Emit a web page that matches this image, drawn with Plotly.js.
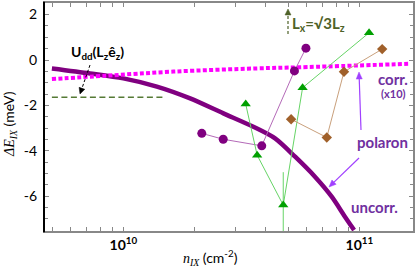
<!DOCTYPE html>
<html>
<head>
<meta charset="utf-8">
<script src="https://cdn.plot.ly/plotly-3.0.1.min.js"></script>
<style>html,body{margin:0;padding:0;background:#fff;}#chart{width:415px;height:270px;}</style>
</head>
<body>
<div id="chart"></div>
<script>
// ---- data (n in cm^-2, energies in meV) ----
const uncorrN = [4.98e9, 7.23e9, 1.0e10, 1.387e10, 1.919e10, 2.655e10, 3.556e10, 4.395e10, 5.346e10, 6.486e10, 7.638e10, 8.69e10, 9.506e10];
const uncorrE = [-0.37, -0.59, -0.81, -1.17, -1.69, -2.35, -2.94, -3.45, -4.26, -5.14, -6.02, -6.90, -7.49];

const corrN = [4.98e9, 8.5e9, 1.63e10, 3.67e10, 5.6e10, 1.61e11];
const corrE = [-0.84, -0.69, -0.51, -0.37, -0.32, -0.17];

const uddN = [4.98e9, 1.50e10];
const uddE = [-1.64, -1.64];

const circN = [2.15e10, 2.65e10, 3.86e10, 5.31e10, 5.94e10];
const circE = [-3.23, -3.49, -3.78, -0.48, 0.52];

const triN = [3.30e10, 3.69e10, 4.76e10, 5.75e10, 1.10e11];
const triE = [-1.94, -4.19, -6.39, -1.22, 1.20];
const triErr = [0, 0, 1.45, 0, 0];

const diaN = [5.14e10, 7.28e10, 8.61e10, 1.25e11];
const diaE = [-2.61, -3.41, -0.52, 0.48];

const xTickVals = [1e10, 1e11];
const xTickText = ['<b>10<sup>10</sup></b>', '<b>10<sup>11</sup></b>'];
const xMinorVals = [5e9, 6e9, 7e9, 8e9, 9e9, 2e10, 3e10, 4e10, 5e10, 6e10, 7e10, 8e10, 9e10];
const yTickVals = [2, 0, -2, -4, -6];
const yTickText = ['2', '0', '-2', '-4', '-6'];

// ---- layout helpers (pixel -> paper) ----
const L = 45, R = 413, T = 3, B = 231;
const PX = x => (x - L) / (R - L);
const PY = y => (B - y) / (B - T);

const FONT = 'Lato, "Open Sans", sans-serif';
const PURPLE_TXT = '#7030a0';
const GREEN_TXT = '#4f6228';
const ARROW_VIOLET = '#a040ff';

function arrowShapes(tx, ty, hx, hy, color, width, dash, headLen, headHalf) {
  const dx = hx - tx, dy = hy - ty, len = Math.hypot(dx, dy);
  const ux = dx / len, uy = dy / len;
  const bx = hx - ux * headLen, by = hy - uy * headLen;
  const p1x = bx - uy * headHalf, p1y = by + ux * headHalf;
  const p2x = bx + uy * headHalf, p2y = by - ux * headHalf;
  const path = `M${PX(hx)},${PY(hy)} L${PX(p1x)},${PY(p1y)} L${PX(p2x)},${PY(p2y)} Z`;
  return [
    {type: 'line', xref: 'paper', yref: 'paper', x0: PX(tx), y0: PY(ty), x1: PX(bx), y1: PY(by),
     line: {color: color, width: width, dash: dash || 'solid'}},
    {type: 'path', xref: 'paper', yref: 'paper', path: path, fillcolor: color, line: {color: color, width: 0.5}}
  ];
}

function label(x, y, text, size, color, extra) {
  return Object.assign({xref: 'paper', yref: 'paper', x: PX(x), y: PY(y), xanchor: 'center', yanchor: 'middle',
    showarrow: false, text: text, font: {family: FONT, size: size, color: color}}, extra || {});
}

const traces = [
  {x: uddN, y: uddE, mode: 'lines', line: {color: '#557a35', width: 1.6, dash: '6px,3.5px'}},
  {x: uncorrN, y: uncorrE, mode: 'lines', line: {color: '#800080', width: 4.5, shape: 'spline', smoothing: 0.8}},
  {x: corrN, y: corrE, mode: 'lines', line: {color: '#ff00ff', width: 4, dash: '4px,2.3px', shape: 'spline'}},
  {x: circN, y: circE, mode: 'lines+markers', line: {color: '#b46ab8', width: 1},
   marker: {symbol: 'circle', size: 9, color: '#800080'}},
  {x: triN, y: triE, mode: 'lines+markers', line: {color: '#66d466', width: 1},
   marker: {symbol: 'triangle-up', size: 9, color: '#00a000'},
   error_y: {type: 'data', array: triErr, visible: true, color: '#66d466', thickness: 1, width: 0}},
  {x: diaN, y: diaE, mode: 'lines+markers', line: {color: '#c9a07c', width: 1},
   marker: {symbol: 'diamond', size: 8, color: '#a0602a'}}
];

const annotations = [
  label(97, 52, '<b>U<sub>dd</sub>(L<sub>z</sub>ê<sub>z</sub>)</b>', 14, '#000'),
  label(318, 24, '<b>L<sub>x</sub>=√3L<sub>z</sub></b>', 15, GREEN_TXT),
  label(393, 79, '<b>corr.</b>', 15, PURPLE_TXT),
  label(393, 93, '<b>(x10)</b>', 11, PURPLE_TXT),
  label(382, 142, '<b>polaron</b>', 15, PURPLE_TXT),
  label(374, 207, '<b>uncorr.</b>', 15, PURPLE_TXT),
  label(210, 257, '<span style="font-family:\'Liberation Serif\',serif;font-style:italic">n<sub>IX</sub></span> (cm<sup>-2</sup>)', 14, '#000'),
  label(9, 124, '<span style="font-family:\'Liberation Serif\',serif;font-style:italic">ΔE<sub>IX</sub></span> (meV)', 14, '#000', {textangle: -90})
];

const shapes = [].concat(
  arrowShapes(90, 65, 80, 94, '#000', 1, '3px,2px', 6, 3),
  arrowShapes(288, 34, 288, 9, GREEN_TXT, 1.2, '3px,2px', 6, 3),
  arrowShapes(361, 130, 359, 72, ARROW_VIOLET, 1.2, null, 7, 3),
  arrowShapes(359, 158, 329, 187, ARROW_VIOLET, 1.2, null, 7, 3),
  [{type: 'line', xref: 'paper', yref: 'paper', x0: -1 / (R - L), y0: -0.005, x1: -1 / (R - L), y1: 1.005,
    line: {color: '#000', width: 2}, layer: 'above'}]
);

const layout = {
  width: 415, height: 270,
  margin: {l: L, r: 415 - R, t: T, b: 270 - B},
  paper_bgcolor: '#fff', plot_bgcolor: '#fff',
  showlegend: false,
  font: {family: FONT, size: 13, color: '#000'},
  xaxis: {
    type: 'log', range: [9.668, 11.2275], showgrid: false, zeroline: false,
    tickmode: 'array', tickvals: xTickVals, ticktext: xTickText, ticks: 'inside', ticklen: 4, tickcolor: '#888', tickwidth: 1,
    minor: {tickmode: 'array', tickvals: xMinorVals, ticks: 'inside', ticklen: 4, tickcolor: '#888', showgrid: false},
    showline: true, linecolor: '#888', linewidth: 2, mirror: 'allticks',
    tickfont: {family: FONT, size: 14, color: '#000'}
  },
  yaxis: {
    range: [-7.53, 2.51], showgrid: false, zeroline: false,
    tickmode: 'array', tickvals: yTickVals, ticktext: yTickText, ticks: 'inside', ticklen: 4, tickcolor: '#888', tickwidth: 1,
    minor: {dtick: 0.5, tick0: 0, ticks: 'inside', ticklen: 3, tickcolor: '#888', showgrid: false},
    showline: true, linecolor: '#888', linewidth: 2, mirror: 'allticks',
    tickfont: {family: FONT, size: 14, color: '#000'}, ticklabelstandoff: 3
  },
  annotations: annotations,
  shapes: shapes
};

Plotly.newPlot('chart', traces, layout, {staticPlot: true, displayModeBar: false});
</script>
</body>
</html>
